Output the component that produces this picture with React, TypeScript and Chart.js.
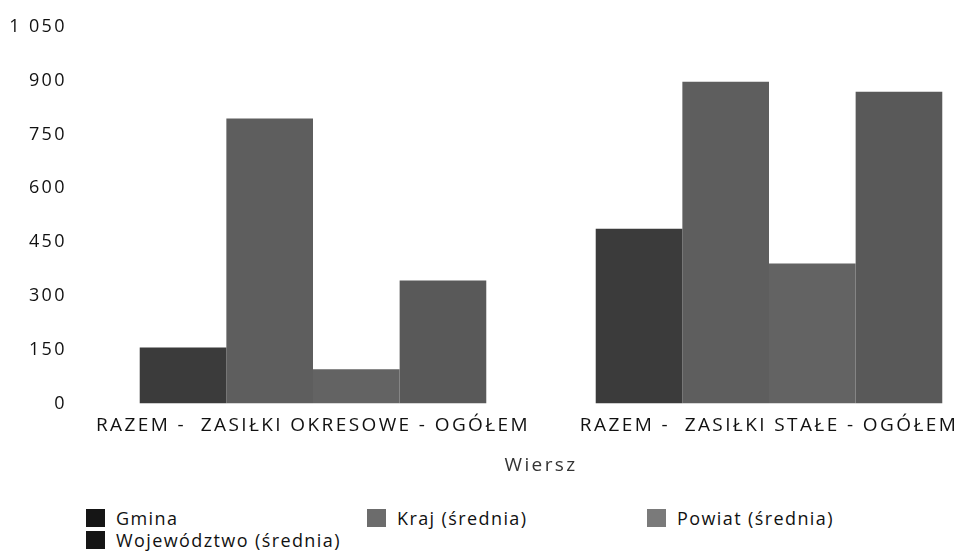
import React, { useEffect, useRef } from "react";
import { Chart, registerables } from "chart.js";

Chart.register(...registerables);

const categories = ["RAZEM -  ZASIŁKI OKRESOWE - OGÓŁEM", "RAZEM -  ZASIŁKI STAŁE - OGÓŁEM"];
const seriesNames = ["Gmina", "Kraj (średnia)", "Powiat (średnia)", "Województwo (średnia)"];
const gmina = [156, 487];
const kraj = [794, 897];
const powiat = [95, 390];
const wojewodztwo = [343, 869];
const barColors = ["#3b3b3b", "#5e5e5e", "#636363", "#595959"];
const legendColors = ["#151515", "#6c6c6c", "#7a7a7a", "#151515"];
const yMax = 1050;
const yStep = 150;
const axisTitle = "Wiersz";

const FONT = "'Open Sans', 'DejaVu Sans', sans-serif";
const SPACING = "2.4px";
const LEGEND_SPACING = "1.4px";

const spacingPlugin = {
  id: "spacing",
  beforeUpdate(chart: any) { chart.ctx.letterSpacing = SPACING; },
  beforeLayout(chart: any) { chart.ctx.letterSpacing = SPACING; },
  beforeDraw(chart: any) { chart.ctx.letterSpacing = SPACING; },
};

export default function App() {
  const ref = useRef<HTMLCanvasElement | null>(null);
  useEffect(() => {
    if (!ref.current) return;
    const values = [gmina, kraj, powiat, wojewodztwo];
    const chart = new Chart(ref.current, {
      type: "bar",
      data: {
        labels: categories,
        datasets: seriesNames.map((n, i) => ({
          label: n,
          data: values[i],
          backgroundColor: barColors[i],
          borderWidth: 0,
          barPercentage: 1,
          categoryPercentage: 0.76,
        })),
      },
      plugins: [spacingPlugin],
      options: {
        animation: false,
        responsive: false,
        maintainAspectRatio: false,
        layout: { padding: { left: 10, right: 3, top: 12, bottom: 0 } },
        plugins: { legend: { display: false }, tooltip: { enabled: false } },
        scales: {
          x: {
            grid: { display: false },
            border: { display: false },
            ticks: { color: "#111", font: { family: FONT, size: 19 }, maxRotation: 0, padding: 3 },
            title: { display: true, text: axisTitle, color: "#333", font: { family: FONT, size: 19 }, padding: { top: 14, bottom: 0 } },
          },
          y: {
            min: 0,
            max: yMax,
            grid: { display: false },
            border: { display: false },
            afterFit: (axis: any) => { axis.width = 75; },
            ticks: {
              stepSize: yStep,
              color: "#111",
              padding: 10,
              font: { family: FONT, size: 18 },
              callback: (v: any) => String(v).replace(/\B(?=(\d{3})+(?!\d))/g, " "),
            },
          },
        },
      },
    });
    return () => chart.destroy();
  }, []);

  const legendPos = [
    { left: 86, top: 509 },
    { left: 367, top: 509 },
    { left: 647, top: 509 },
    { left: 86, top: 531 },
  ];

  return (
    <div style={{ position: "fixed", left: 0, top: 0, width: 965, height: 551, overflow: "hidden", background: "#fff" }}>
      <canvas ref={ref} width={1000} height={471} style={{ position: "absolute", left: 0, top: 6, width: 1000, height: 471 }} />
      {seriesNames.map((n, i) => (
        <div key={n} style={{ position: "absolute", left: legendPos[i].left, top: legendPos[i].top, height: 18, display: "flex", alignItems: "center", fontFamily: FONT, fontSize: 18, letterSpacing: LEGEND_SPACING, color: "#111", whiteSpace: "nowrap", lineHeight: "18px" }}>
          <span style={{ display: "inline-block", width: 19, height: 18, background: legendColors[i], marginRight: 11 }} />
          {n}
        </div>
      ))}
    </div>
  );
}
